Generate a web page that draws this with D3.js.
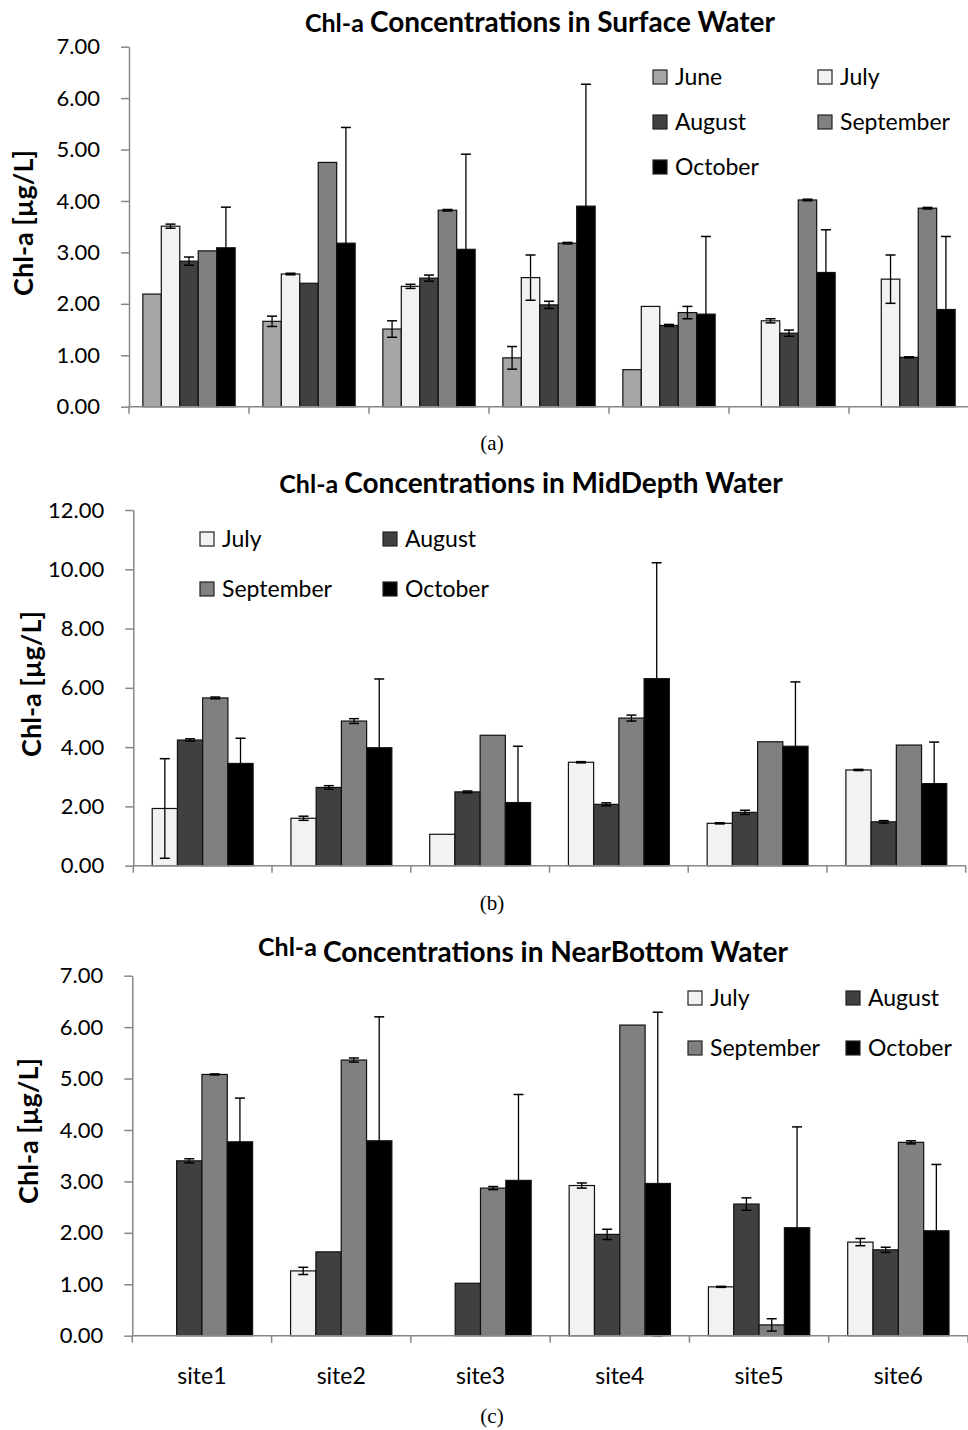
<!DOCTYPE html>
<html>
<head>
<meta charset="utf-8">
<script src="https://cdn.jsdelivr.net/npm/d3@7"></script>
<style>
  html, body { margin: 0; padding: 0; background: #fff; }
  svg { display: block; }
  text { font-family: Lato, "Open Sans", sans-serif; fill: #000; }
  .cap { font-family: "Liberation Serif", "Times New Roman", serif; }
</style>
</head>
<body>
<svg id="fig" width="968" height="1430"></svg>
<script>
// ---- Months & colours ----
const monthsSurface = ["June", "July", "August", "September", "October"];
const monthsDeep = ["July", "August", "September", "October"];
const monthColors = ["#a6a6a6", "#f2f2f2", "#404040", "#808080", "#000000"];

// ---- Sites ----
const surfaceSites = ["s1", "s2", "s3", "s4", "s5", "s6", "s7"];
const siteLabels = ["site1", "site2", "site3", "site4", "site5", "site6"];

// ---- Surface water (µg/L), mean and error ----
const surfJune = [2.19, 1.66, 1.51, 0.95, 0.72, null, null];
const surfJuneErr = [0, 0.10, 0.16, 0.22, 0, 0, 0];
const surfJuly = [3.51, 2.58, 2.34, 2.51, 1.95, 1.67, 2.48];
const surfJulyErr = [0.04, 0.015, 0.04, 0.44, 0, 0.04, 0.47];
const surfAug = [2.83, 2.40, 2.50, 1.98, 1.58, 1.43, 0.96];
const surfAugErr = [0.08, 0, 0.06, 0.07, 0.02, 0.06, 0.01];
const surfSep = [3.03, 4.75, 3.82, 3.18, 1.83, 4.02, 3.86];
const surfSepErr = [0, 0, 0.015, 0.015, 0.12, 0.015, 0.015];
const surfOct = [3.09, 3.18, 3.06, 3.90, 1.80, 2.61, 1.89];
const surfOctErr = [0.79, 2.25, 1.85, 2.37, 1.51, 0.83, 1.42];

// ---- Mid-depth water ----
const midJuly = [1.93, 1.60, 1.06, 3.49, 1.43, 3.23];
const midJulyErr = [1.68, 0.07, 0, 0.02, 0.02, 0.02];
const midAug = [4.24, 2.64, 2.49, 2.07, 1.80, 1.48];
const midAugErr = [0.04, 0.06, 0.03, 0.05, 0.07, 0.04];
const midSep = [5.66, 4.88, 4.40, 4.98, 4.18, 4.07];
const midSepErr = [0.03, 0.08, 0, 0.10, 0, 0];
const midOct = [3.45, 3.98, 2.13, 6.31, 4.03, 2.77];
const midOctErr = [0.85, 2.32, 1.90, 3.91, 2.17, 1.40];

// ---- Near-bottom water ----
const botJuly = [null, 1.26, null, 2.92, 0.95, 1.82];
const botJulyErr = [0, 0.07, 0, 0.05, 0.01, 0.07];
const botAug = [3.40, 1.63, 1.02, 1.97, 2.56, 1.67];
const botAugErr = [0.04, 0, 0, 0.10, 0.12, 0.05];
const botSep = [5.08, 5.36, 2.87, 6.04, 0.21, 3.76];
const botSepErr = [0.01, 0.04, 0.03, 0, 0.12, 0.03];
const botOct = [3.77, 3.79, 3.02, 2.96, 2.10, 2.04];
const botOctErr = [0.85, 2.41, 1.67, 3.33, 1.96, 1.29];

// ---- Tick values ----
const ticksSeven = [0, 1, 2, 3, 4, 5, 6, 7];
const ticksTwelve = [0, 2, 4, 6, 8, 10, 12];

const svg = d3.select("#fig");
const AXIS = "#878787";

function colorOf(month) {
  return monthColors[monthsSurface.indexOf(month)];
}

function drawPanel(cfg) {
  const g = svg.append("g");
  const x = d3.scaleBand().domain(cfg.sites).range([cfg.x0, cfg.x1]).padding(0);
  const xm = d3.scaleBand().domain(cfg.months).range([0, x.step()])
    .paddingInner(0).paddingOuter(0.75);
  const y = d3.scaleLinear().domain([0, cfg.ymax]).range([cfg.yBase, cfg.yTop]);

  // bars
  cfg.months.forEach((m, mi) => {
    const vals = cfg.values[mi];
    cfg.sites.forEach((s, si) => {
      const v = vals[si];
      if (v == null) return;
      g.append("rect")
        .attr("x", x(s) + xm(m))
        .attr("y", y(v))
        .attr("width", xm.bandwidth())
        .attr("height", y(0) - y(v))
        .attr("fill", colorOf(m))
        .attr("stroke", "#111")
        .attr("stroke-width", 1.2);
    });
  });
  // error bars
  cfg.months.forEach((m, mi) => {
    const vals = cfg.values[mi], errs = cfg.errors[mi];
    cfg.sites.forEach((s, si) => {
      const v = vals[si], e = errs[si];
      if (v == null || !e) return;
      const cx = x(s) + xm(m) + xm.bandwidth() / 2;
      const lo = Math.max(0, v - e), hi = v + e;
      g.append("line").attr("x1", cx).attr("x2", cx)
        .attr("y1", y(lo)).attr("y2", y(hi))
        .attr("stroke", "#000").attr("stroke-width", 1.3);
      [lo, hi].forEach(t => {
        g.append("line").attr("x1", cx - 5).attr("x2", cx + 5)
          .attr("y1", y(t)).attr("y2", y(t))
          .attr("stroke", "#000").attr("stroke-width", 1.5);
      });
    });
  });

  // y axis
  const ya = g.append("g").attr("transform", `translate(${cfg.x0},0)`)
    .call(d3.axisLeft(y).tickValues(cfg.ticks).tickFormat(d3.format(".2f"))
      .tickSize(8).tickSizeOuter(0).tickPadding(21));
  ya.select(".domain").attr("stroke", AXIS).attr("stroke-width", 1.5);
  ya.selectAll(".tick line").attr("stroke", AXIS).attr("stroke-width", 1.5);
  ya.selectAll(".tick text").attr("font-family", "Lato, sans-serif")
    .attr("font-size", 22).attr("fill", "#000");

  // x axis with ticks at group boundaries
  const bounds = cfg.sites.map(s => x(s)).concat([cfg.x1]);
  g.append("line").attr("x1", cfg.x0).attr("x2", cfg.x1)
    .attr("y1", y(0)).attr("y2", y(0))
    .attr("stroke", AXIS).attr("stroke-width", 1.5);
  bounds.forEach(bx => {
    g.append("line").attr("x1", bx).attr("x2", bx)
      .attr("y1", y(0)).attr("y2", y(0) + 7)
      .attr("stroke", AXIS).attr("stroke-width", 1.5);
  });
  if (cfg.labels) {
    cfg.sites.forEach((s, i) => {
      g.append("text").attr("x", x(s) + x.bandwidth() / 2).attr("y", cfg.labelY)
        .attr("text-anchor", "middle").attr("font-size", 23).text(cfg.labels[i]);
    });
  }

  // y-axis title
  g.append("text")
    .attr("transform", `translate(${cfg.yTitleX},${cfg.yTitleY}) rotate(-90)`)
    .attr("text-anchor", "middle").attr("font-weight", 700).attr("font-size", 27)
    .text("Chl-a [µg/L]");

  // chart title
  const t = g.append("text").attr("x", cfg.titleX).attr("y", cfg.titleY)
    .attr("text-anchor", "middle").attr("font-weight", 700);
  t.append("tspan").attr("font-size", 25).attr("dy", cfg.chlRaise || 0).text("Chl-a ");
  t.append("tspan").attr("font-size", 28).attr("dy", -(cfg.chlRaise || 0)).text(cfg.title);

  // legend
  cfg.months.forEach((m, i) => {
    const col = i % 2, row = Math.floor(i / 2);
    const lx = cfg.legend.cols[col], ly = cfg.legend.rows[row];
    g.append("rect").attr("x", lx).attr("y", ly - 7).attr("width", 14).attr("height", 14)
      .attr("fill", colorOf(m)).attr("stroke", "#222").attr("stroke-width", 1.2);
    g.append("text").attr("x", lx + 22).attr("y", ly + 8)
      .attr("font-size", 23).text(m);
  });

  // panel caption
  svg.append("text").attr("class", "cap").attr("x", cfg.capX).attr("y", cfg.capY)
    .attr("text-anchor", "middle").attr("font-size", 21).text(cfg.caption);
}

drawPanel({
  sites: surfaceSites, months: monthsSurface,
  values: [surfJune, surfJuly, surfAug, surfSep, surfOct],
  errors: [surfJuneErr, surfJulyErr, surfAugErr, surfSepErr, surfOctErr],
  x0: 129, x1: 969, yBase: 406.7, yTop: 46.7, ymax: 7, ticks: ticksSeven,
  yTitleX: 33, yTitleY: 223,
  title: "Concentrations in Surface Water", titleX: 540, titleY: 32,
  legend: { cols: [653, 818], rows: [77, 122, 167] },
  caption: "(a)", capX: 492, capY: 450
});

drawPanel({
  sites: siteLabels, months: monthsDeep,
  values: [midJuly, midAug, midSep, midOct],
  errors: [midJulyErr, midAugErr, midSepErr, midOctErr],
  x0: 133.3, x1: 965.7, yBase: 865.7, yTop: 510, ymax: 12, ticks: ticksTwelve,
  yTitleX: 41, yTitleY: 684,
  title: "Concentrations in MidDepth Water", titleX: 531, titleY: 493,
  legend: { cols: [200, 383], rows: [539, 589] },
  caption: "(b)", capX: 492, capY: 910
});

drawPanel({
  sites: siteLabels, months: monthsDeep,
  values: [botJuly, botAug, botSep, botOct],
  errors: [botJulyErr, botAugErr, botSepErr, botOctErr],
  labels: siteLabels, labelY: 1384,
  x0: 132.3, x1: 968, yBase: 1335.7, yTop: 975.7, ymax: 7, ticks: ticksSeven,
  yTitleX: 38, yTitleY: 1131,
  title: "Concentrations in NearBottom Water", titleX: 523, titleY: 962, chlRaise: -6,
  legend: { cols: [688, 846], rows: [998, 1048] },
  caption: "(c)", capX: 492, capY: 1423
});
</script>
</body>
</html>
